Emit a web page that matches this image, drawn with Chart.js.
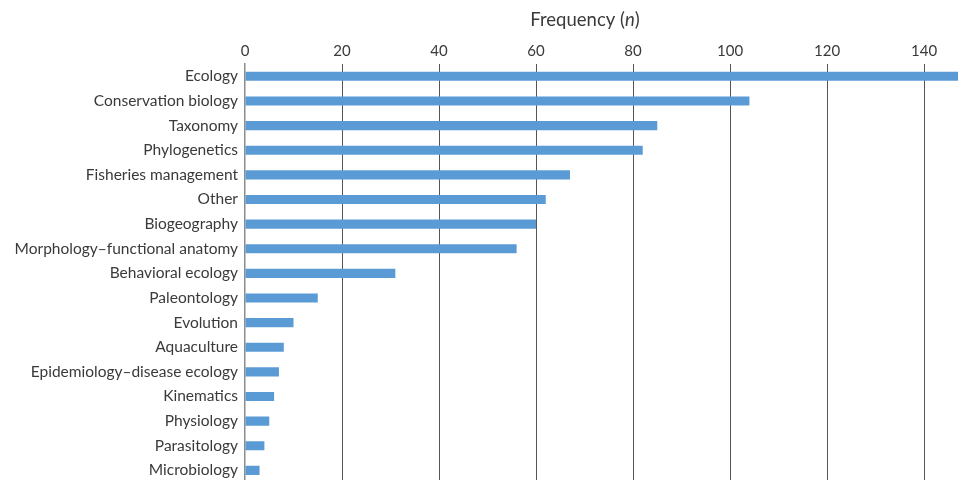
<!DOCTYPE html>
<html>
<head>
<meta charset="utf-8">
<script src="https://cdn.jsdelivr.net/npm/chart.js@4"></script>
<style>
  html, body { margin: 0; padding: 0; background: #fff; overflow: hidden; }
  #wrap { width: 961px; height: 499px; }
</style>
</head>
<body>
<div id="wrap"><canvas id="grafico"></canvas></div>
<script>
const categorias = ['Ecology', 'Conservation biology', 'Taxonomy', 'Phylogenetics', 'Fisheries management',
    'Other', 'Biogeography', 'Morphology–functional anatomy', 'Behavioral ecology', 'Paleontology',
    'Evolution', 'Aquaculture', 'Epidemiology–disease ecology', 'Kinematics', 'Physiology',
    'Parasitology', 'Microbiology'];
const frequencias = [147, 104, 85, 82, 67, 62, 60, 56, 31, 15, 10, 8, 7, 6, 5, 4, 3];
const valoresTicks = [0, 20, 40, 60, 80, 100, 120, 140];
const eixoMax = 147;

Chart.defaults.font.family = 'Lato';
Chart.defaults.color = '#3a3a3a';

// titulo do eixo com o "n" em italico
const tituloEixo = {
    id: 'tituloEixo',
    afterDraw(chart) {
        const ctx = chart.ctx;
        const parte1 = 'Frequency (', parte2 = 'n', parte3 = ')';
        const tam = 18.5;
        ctx.save();
        ctx.fillStyle = '#3a3a3a';
        ctx.textBaseline = 'middle';
        ctx.font = tam + 'px Lato';
        const w1 = ctx.measureText(parte1).width, w3 = ctx.measureText(parte3).width;
        ctx.font = 'italic ' + tam + 'px Lato';
        const w2 = ctx.measureText(parte2).width;
        let x = 585 - (w1 + w2 + w3) / 2;
        const y = 20;
        ctx.font = tam + 'px Lato';
        ctx.fillText(parte1, x, y); x += w1;
        ctx.font = 'italic ' + tam + 'px Lato';
        ctx.fillText(parte2, x, y); x += w2;
        ctx.font = tam + 'px Lato';
        ctx.fillText(parte3, x, y);
        ctx.restore();
    }
};

new Chart(document.getElementById('grafico').getContext('2d'), {
    type: 'bar',
    data: {
        labels: categorias,
        datasets: [{
            label: 'Frequency',
            data: frequencias,
            backgroundColor: '#5b9bd5',
            categoryPercentage: 1,
            barPercentage: 0.37
        }]
    },
    options: {
        indexAxis: 'y',
        responsive: true,
        maintainAspectRatio: false,
        animation: false,
        layout: { padding: { left: 0, right: 3, top: 0, bottom: 0 } },
        plugins: {
            legend: { display: false },
            tooltip: { enabled: false }
        },
        scales: {
            x: {
                position: 'top',
                min: 0,
                max: eixoMax,
                afterBuildTicks: (scale) => {
                    scale.ticks = valoresTicks.map(v => ({ value: v }));
                },
                afterFit: (scale) => { scale.height = 64; },
                ticks: { padding: 4, font: { size: 15 }, autoSkip: false, maxRotation: 0 },
                grid: {
                    drawTicks: false,
                    color: (c) => c.tick && c.tick.value === 0 ? 'rgba(0,0,0,0)' : '#555',
                    lineWidth: 1
                },
                border: { display: false }
            },
            y: {
                afterFit: (scale) => { scale.width = 245; },
                ticks: { padding: 7, font: { size: 15.5 } },
                grid: { display: false, drawTicks: false },
                border: { display: true, color: '#8c8c8c', width: 1.5 }
            }
        }
    },
    plugins: [tituloEixo]
});
</script>
</body>
</html>
